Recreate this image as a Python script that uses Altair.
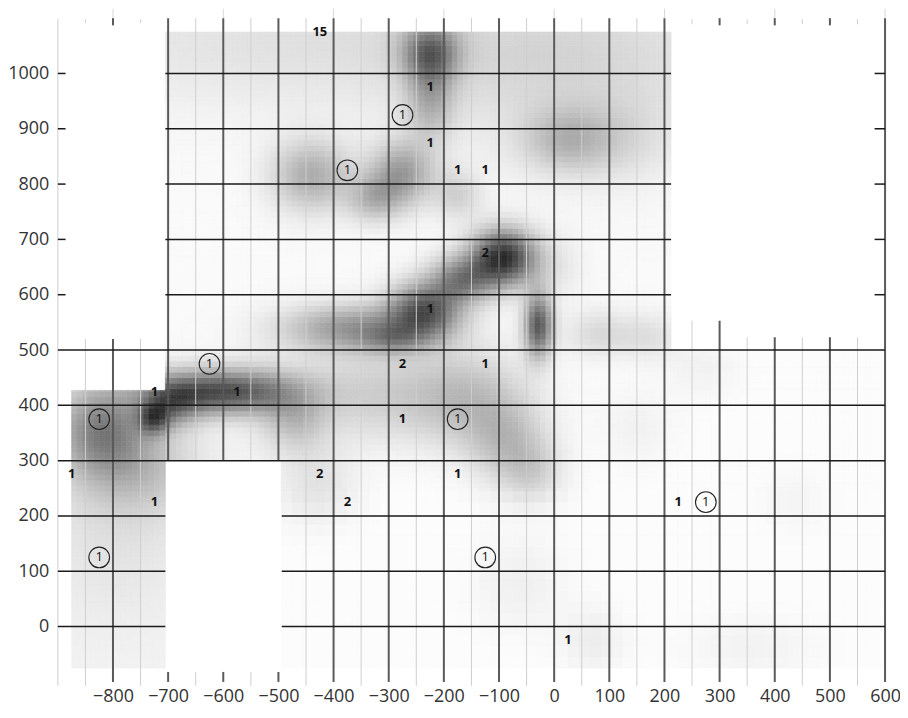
import altair as alt
import pandas as pd
import numpy as np

# ---------------- axis values ----------------
x_ticks = list(range(-800, 601, 100))
y_ticks = list(range(0, 1001, 100))

# ---------------- plain count labels ----------------
lab_x = [-425, -225, -225, -175, -125, -125, -225, -275, -125, -725, -575, -275, -875, -425, -175, -725, -375, 225, 25]
lab_y = [1075, 975, 875, 825, 825, 675, 575, 475, 475, 425, 425, 375, 275, 275, 275, 225, 225, 225, -25]
lab_t = ["15", "1", "1", "1", "1", "2", "1", "2", "1", "1", "1", "1", "1", "2", "1", "1", "2", "1", "1"]

# ---------------- circled labels ----------------
circ_x = [-275, -375, -625, -825, -175, 275, -825, -125]
circ_y = [925, 825, 475, 375, 375, 225, 125, 125]
circ_t = ["1"] * 8

# ---------------- density blobs ----------------
blob_x  = [-224, -224, -275, -440, -325, -175,  23, 120, -400,   50,  -92, -165, -235, -360,  -28,  80, 170, -290, -10,
           -726, -600, -690, -820, -760, -800, -470, -300, -150,  -86,  -40, -430,  -62,  71, 359, 437, 269, 149]
blob_y  = [1040,  960,  820,  815,  775,  780, 880, 880, 1060, 1000,  668,  628,  572,  540,  545, 530, 525,  520, 650,
            377,  425,  405,  360,  290,  160,  375,  420,  410,  335,  280,  260,   79, -24, -37, 228, 469, 360]
blob_sx = [  36,   30,   40,   50,   35,   30,  55,  60,  400,  200,   40,   40,   45,   90,   18,  40,  40,   40,  40,
             20,   90,   35,   55,   80,   90,   40,  140,   70,   50,   40,   50,   60,  40,  80,  40,  50,  50]
blob_sy = [  36,   55,   40,   45,   30,   30,  40,  50,   90,  120,   35,   30,   35,   30,   40,  30,  30,   18,  40,
             20,   28,   30,   55,   60,  100,   40,   60,   60,   50,   40,   50,   60,  40,  40,  40,  40,  50]
blob_w  = [0.45, 0.26, 0.35, 0.30, 0.25, 0.15, 0.22, 0.08, 0.10, 0.10, 0.78, 0.45, 0.60, 0.38, 0.62, 0.12, 0.10, 0.20, 0.08,
           0.45, 0.65, 0.35, 0.40, 0.20, 0.06, 0.20, 0.18, 0.16, 0.20, 0.15, 0.10, 0.05, 0.06, 0.04, 0.03, 0.04, 0.04]

# ---------------- covered regions of the density map ----------------
reg_x1 = [-705, -875, -705, -495, -495]
reg_x2 = [ 212, -705, -495,  600,  600]
reg_y1 = [ 500,  -75,  300,  250,  -75]
reg_y2 = [1075,  427,  500,  500,  250]
reg_base = [0.02, 0.05, 0.03, 0.01, 0.01]
reg_step = [10, 10, 10, 10, 20]

# ---------------- grid segments ----------------
vmaj_x  = [-400, -300, -200, -100, 0, 100, 200, 600, -700, -700, -600, -600, -500, -500, -800, -800, 300, 300, 400, 400, 500, 500]
vmaj_y1 = [-100, -100, -100, -100, -100, -100, -100, -100, 300, -100, 300, -100, 300, -100, -100, 1087, -100, 1087, -100, 1087, -100, 1087]
vmaj_y2 = [1100, 1100, 1100, 1100, 1100, 1100, 1100, 1100, 1100, -82, 1100, -82, 1100, -82, 520, 1100, 553, 1100, 523, 1100, 523, 1100]

vmin_x  = [-900, -850, -850, -750, -750, -650, -650, -550, -550, -450, -350, -250, -150, -50, 50, 150, 250, 250, 350, 350, 450, 450, 550, 550]
vmin_y1 = [-107, -107, 1091, -107, 1091, 300, -107, 300, -107, -107, -107, -107, -107, -107, -107, -107, -107, 1089, -107, 1089, -107, 1089, -107, 1089]
vmin_y2 = [1098, 520, 1098, 520, 1098, 1100, -82, 1100, -82, 1100, 1100, 1100, 1100, 1100, 1100, 1100, 553, 1098, 523, 1098, 523, 1098, 523, 1098]

vext_x = [-800, -600, -400, -200, 0, 200, 400, 600]

h_y  = [1000, 900, 800, 700, 600] * 3 + [500, 400, 300] + [200, 100, 0] * 2
h_x1 = [-705] * 5 + [-900] * 5 + [581] * 5 + [-900] * 3 + [-900] * 3 + [-494] * 3
h_x2 = [212] * 5 + [-886] * 5 + [600] * 5 + [600] * 3 + [-705] * 3 + [600] * 3

# ---------------- build tables ----------------
bx = np.array(blob_x, float); by = np.array(blob_y, float)
bsx = np.array(blob_sx, float); bsy = np.array(blob_sy, float); bw = np.array(blob_w, float)

cells = []
for x1, x2, y1, y2, base, step in zip(reg_x1, reg_x2, reg_y1, reg_y2, reg_base, reg_step):
    xs0 = np.arange(x1, x2, step)
    ys0 = np.arange(y1, y2, step)
    X0, Y0 = np.meshgrid(xs0, ys0)
    X1 = np.minimum(X0 + step, x2); Y1 = np.minimum(Y0 + step, y2)
    CX = (X0 + X1) / 2; CY = (Y0 + Y1) / 2
    field = np.zeros_like(CX)
    for i in range(len(bx)):
        field += bw[i] * np.exp(-((CX - bx[i]) ** 2 / (2 * bsx[i] ** 2) + (CY - by[i]) ** 2 / (2 * bsy[i] ** 2)))
    d = np.minimum(base + field, 0.84)
    g = np.round(255 * (1 - d)).astype(int)
    for a, b, c, e, gg in zip(X0.ravel(), X1.ravel(), Y0.ravel(), Y1.ravel(), g.ravel()):
        cells.append({"x1": a, "x2": b, "y1": c, "y2": e, "c": "#%02x%02x%02x" % (gg, gg, gg)})
heat_df = pd.DataFrame(cells)

labels_df = pd.DataFrame({"x": lab_x, "y": lab_y, "t": lab_t})
circ_df = pd.DataFrame({"x": circ_x, "y": circ_y, "t": circ_t})
vmaj_df = pd.DataFrame({"x": vmaj_x, "y1": vmaj_y1, "y2": vmaj_y2})
vmin_df = pd.DataFrame({"x": vmin_x, "y1": vmin_y1, "y2": vmin_y2})
vext_df = pd.DataFrame({"x": vext_x, "y1": [1100] * len(vext_x), "y2": [1117] * len(vext_x)})
h_df = pd.DataFrame({"y": h_y, "x1": h_x1, "x2": h_x2})

FONT = "Open Sans"
xs = alt.Scale(domain=[-900, 600], nice=False, zero=False)
ys = alt.Scale(domain=[-100, 1100], nice=False, zero=False)
xax = alt.Axis(values=x_ticks, format="d", grid=False, ticks=False, domain=False, labelFont=FONT, labelFontSize=18,
               labelColor="#333333", labelPadding=6, title=None, labelFlush=False)
yax = alt.Axis(values=y_ticks, format="d", grid=False, ticks=False, domain=False, labelFont=FONT, labelFontSize=18,
               labelColor="#333333", labelPadding=9, title=None, labelFlush=False)


def X(f):
    return alt.X(f, scale=xs, axis=xax, title=None)


def Y(f):
    return alt.Y(f, scale=ys, axis=yax, title=None)


heat = alt.Chart(heat_df).mark_rect(strokeWidth=0.6).encode(
    x=X("x1:Q"), x2="x2:Q", y=Y("y1:Q"), y2="y2:Q",
    fill=alt.Fill("c:N", scale=None),
    stroke=alt.Stroke("c:N", scale=None),
)

vmin = alt.Chart(vmin_df).mark_rule(color="#cfcfcf", strokeWidth=1).encode(x=X("x:Q"), y=Y("y1:Q"), y2="y2:Q")
vext = alt.Chart(vext_df).mark_rule(color="#d8d8d8", strokeWidth=1).encode(x=X("x:Q"), y=Y("y1:Q"), y2="y2:Q")
vmaj = alt.Chart(vmaj_df).mark_rule(color="#5a5a5a", strokeWidth=2).encode(x=X("x:Q"), y=Y("y1:Q"), y2="y2:Q")
hrule = alt.Chart(h_df).mark_rule(color="#1a1a1a", strokeWidth=1.5).encode(y=Y("y:Q"), x=X("x1:Q"), x2="x2:Q")

txt = alt.Chart(labels_df).mark_text(font=FONT, fontSize=13, fontWeight="bold", color="#111111").encode(
    x=X("x:Q"), y=Y("y:Q"), text="t:N")
circ = alt.Chart(circ_df).mark_point(shape="circle", size=430, filled=False, color="#222222", strokeWidth=1.1, opacity=1).encode(
    x=X("x:Q"), y=Y("y:Q"))
ctxt = alt.Chart(circ_df).mark_text(font=FONT, fontSize=13, fontWeight=500, color="#111111").encode(
    x=X("x:Q"), y=Y("y:Q"), text="t:N")

chart = alt.layer(heat, vmin, vext, vmaj, hrule, txt, circ, ctxt).properties(
    width=830, height=666,
    autosize=alt.AutoSizeParams(type="none"),
    padding={"left": 50, "top": 9, "right": 15, "bottom": 26},
).configure_view(stroke=None)

chart.save("out.html", embed_options={"renderer": "svg", "actions": False})
